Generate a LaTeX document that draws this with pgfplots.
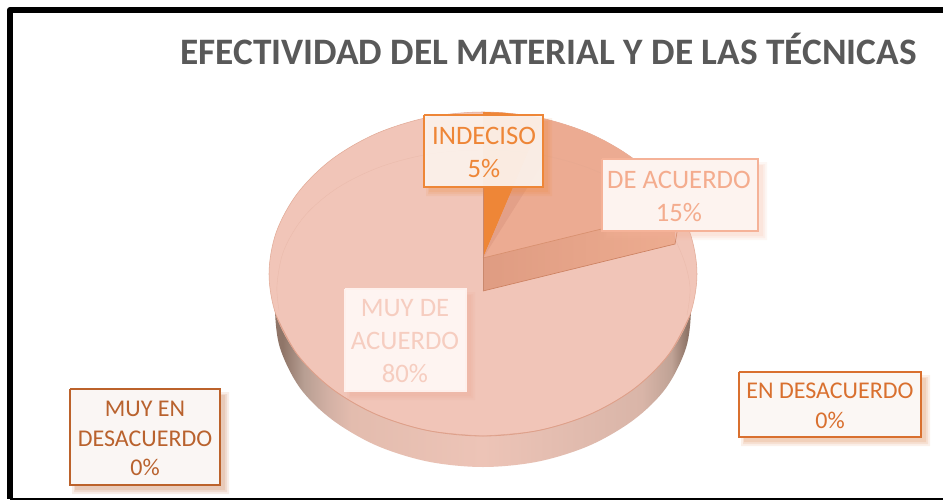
\documentclass[border=0pt]{standalone}
\usepackage{pgfplots}
\pgfplotsset{compat=1.18}
\usepackage{fontspec}
\setmainfont{Carlito}
\definecolor{face}{HTML}{F1C5B8}
\definecolor{sec}{HTML}{ECAB92}
\definecolor{band}{HTML}{E3A088}
\definecolor{oran}{HTML}{EE8637}
\definecolor{titlec}{HTML}{595959}
\definecolor{sa}{HTML}{8F7568}
\definecolor{sb}{HTML}{B89F93}
\definecolor{sc}{HTML}{D2B0A4}
\definecolor{sd}{HTML}{E3BCAE}
\definecolor{se}{HTML}{EDC4B7}
\definecolor{sf}{HTML}{D9B5A8}
\definecolor{sg}{HTML}{BFA295}
\definecolor{backedge}{HTML}{E2AA96}
\definecolor{frontedge}{HTML}{DEA08A}
\definecolor{walll}{HTML}{DF9C82}
\definecolor{wallr}{HTML}{EDAC90}
\definecolor{wallup}{HTML}{D8906F}
\definecolor{walldn}{HTML}{CD8262}
\definecolor{vline}{HTML}{C9886D}
\definecolor{faint}{HTML}{DCA591}
\definecolor{bdac}{HTML}{F5B298}
\definecolor{tdac}{HTML}{F4AC8E}
\definecolor{bmda}{HTML}{FEF0EC}
\definecolor{fmda}{HTML}{FEF4F1}
\definecolor{smda}{HTML}{E8A58F}
\definecolor{tmda}{HTML}{F6CDC0}
\definecolor{bmen}{HTML}{BC622B}
\definecolor{fmen}{HTML}{FAF6F4}
\definecolor{tmen}{HTML}{B9622E}
\definecolor{ben}{HTML}{D9702F}
\definecolor{fen}{HTML}{FBF7F4}
\definecolor{find}{HTML}{FBF3EE}
\definecolor{fdac}{HTML}{FDF3EF}
\tikzset{lab/.style={anchor=base,font=\fontsize{20}{22}\selectfont},
         labs/.style={anchor=base,font=\fontsize{18}{20}\selectfont}}
\pgfdeclarehorizontalshading{sideshade}{100bp}{
 color(0bp)=(sa);
 color(26bp)=(sa);
 color(28.6bp)=(sb);
 color(31.4bp)=(sc);
 color(34.2bp)=(sd);
 color(50bp)=(se);
 color(69bp)=(sf);
 color(72.6bp)=(sg);
 color(74.4bp)=(sa);
 color(100bp)=(sa)}
\newcommand{\labelbox}[8]{% x0 y0 x1 y1 border fill opacity shadow
  \addplot[fill=#8,fill opacity=0.10,draw=none] coordinates {(#1+2,#2+3) (#3+9,#2+3) (#3+9,#4+9) (#1+2,#4+9) (#1+2,#2+3)};
  \addplot[fill=#8,fill opacity=0.12,draw=none] coordinates {(#1+4,#2+5) (#3+7,#2+5) (#3+7,#4+7) (#1+4,#4+7) (#1+4,#2+5)};
  \addplot[fill=#8,fill opacity=0.14,draw=none] coordinates {(#1+5,#2+6) (#3+5,#2+6) (#3+5,#4+5) (#1+5,#4+5) (#1+5,#2+6)};
  \addplot[fill=#6,fill opacity=#7,draw=#5,line width=2pt,line join=miter] coordinates {(#1,#2) (#3,#2) (#3,#4) (#1,#4) (#1,#2)};
}
\begin{document}
\begin{tikzpicture}
\begin{axis}[
  scale only axis,width=707.25pt,height=375pt,
  xmin=0,xmax=943,ymin=0,ymax=500,y dir=reverse,
  axis lines=none,clip=true,
  every axis plot/.append style={mark=none},
]
% page background
\addplot[fill=white,draw=none] coordinates {(0,0)(943,0)(943,500)(0,500)(0,0)};
% frame
\addplot[draw=black,line width=4.5pt,line join=round] coordinates {(943,10)(10,10)(10,499)};
\addplot[draw=black,line width=1.5pt] coordinates {(10,499)(943,499)};
% side wall
\addplot[smooth,tension=0.55,shading=sideshade,draw=none] coordinates {(300,260)(278,290)(275,310)(280,348)(300,388)(332,419.6)(376,445.3)(427.6,461.5)(483,467)(538.4,461.5)(590,445.3)(634,419.6)(666,388)(686,348)(691,310)(688,290)(666,260)};
% top face
\addplot[smooth,tension=0.55,fill=face,draw=backedge,line width=0.4pt] coordinates {(483,436)(538.4,430.5)(590,414.3)(634.3,388.6)(668.3,355)(689.7,315.9)(697,274)(689.7,232.1)(668.3,193)(634.3,159.4)(590,133.7)(538.4,117.5)(483,112)(427.6,117.5)(376,133.7)(331.7,159.4)(297.7,193)(276.3,232.1)(269,274)(276.3,315.9)(297.7,355)(331.7,388.6)(376,414.3)(427.6,430.5)(483,436)};
% front edge
\addplot[smooth,tension=0.55,draw=frontedge,line width=0.6pt] coordinates {(276.3,315.9)(297.7,355)(331.7,388.6)(376,414.3)(427.6,430.5)(483,436)(538.4,430.5)(590,414.3)(634.3,388.6)(668.3,355)(689.7,315.9)};
% 15 % sector
\addplot[fill=sec,draw=none] coordinates {(483,258)(680,210.5)(676.9,205.5)(668.3,193)(658.3,181.1)(646.9,169.9)(634.3,159.4)(620.6,149.9)(605.7,141.3)(590,133.7)(573.4,127.2)(556.2,121.8)(538.4,117.5)(520.2,114.5)(501.7,112.6)(483,112)(483,258)};
% 5 % sector
\addplot[fill=oran,draw=none] coordinates {(483,258)(483,112)(501.7,112.6)(520.2,114.5)(542.7,118)(483,258)};
% dark band beside the 5 % sector
\addplot[fill=band,draw=none] coordinates {(483,258)(542.7,118)(544,161)(483,258)};
% inner wall
\addplot[left color=walll,right color=wallr,draw=none] coordinates {(483,258)(675,211)(675,244)(483,291)(483,258)};
\addplot[draw=wallup,line width=0.5pt] coordinates {(483,258)(675,211)};
\addplot[draw=walldn,line width=0.5pt] coordinates {(483,291)(675,244)(677,232)};
\addplot[draw=vline,line width=0.5pt] coordinates {(483,188)(483,291)};
% faint inner arc
\addplot[smooth,tension=0.55,draw=faint,draw opacity=0.3,line width=0.3pt] coordinates {(279,310)(277,285)(284,250)(304.6,216)(337.3,188)(380,167)(429.7,154)(483,150)(536.3,154)(586,167)(628.7,188)(661.4,216)(682,255)(690,287)(687,315)};
% label boxes
\labelbox{424}{115}{543}{187}{oran}{find}{0.93}{oran}
\labelbox{602}{159}{758}{231}{bdac}{fdac}{1}{bdac}
\labelbox{345}{289}{466}{391}{bmda}{fmda}{1}{smda}
\labelbox{70}{389}{220}{485}{bmen}{fmen}{1}{bmen}
\labelbox{739}{372}{921}{437}{ben}{fen}{1}{ben}
% texts
\node[anchor=base west,font=\fontsize{28}{30}\selectfont\bfseries,text=titlec,inner sep=0pt] at (axis cs:180,64) {EFECTIVIDAD DEL MATERIAL Y DE LAS TÉCNICAS};
\node[lab,text=oran] at (axis cs:484,144) {INDECISO};
\node[lab,text=oran] at (axis cs:484,177) {5\%};
\node[lab,text=tdac] at (axis cs:679,188) {DE ACUERDO};
\node[lab,text=tdac] at (axis cs:679,221) {15\%};
\node[lab,text=tmda] at (axis cs:405,316) {MUY DE};
\node[lab,text=tmda] at (axis cs:405,349) {ACUERDO};
\node[lab,text=tmda] at (axis cs:405,382) {80\%};
\node[labs,text=tmen] at (axis cs:145,416) {MUY EN};
\node[labs,text=tmen] at (axis cs:145,446) {DESACUERDO};
\node[labs,text=tmen] at (axis cs:145,475) {0\%};
\node[labs,text=ben] at (axis cs:830,398) {EN DESACUERDO};
\node[labs,text=ben] at (axis cs:830,428) {0\%};
\end{axis}
\end{tikzpicture}
\end{document}
